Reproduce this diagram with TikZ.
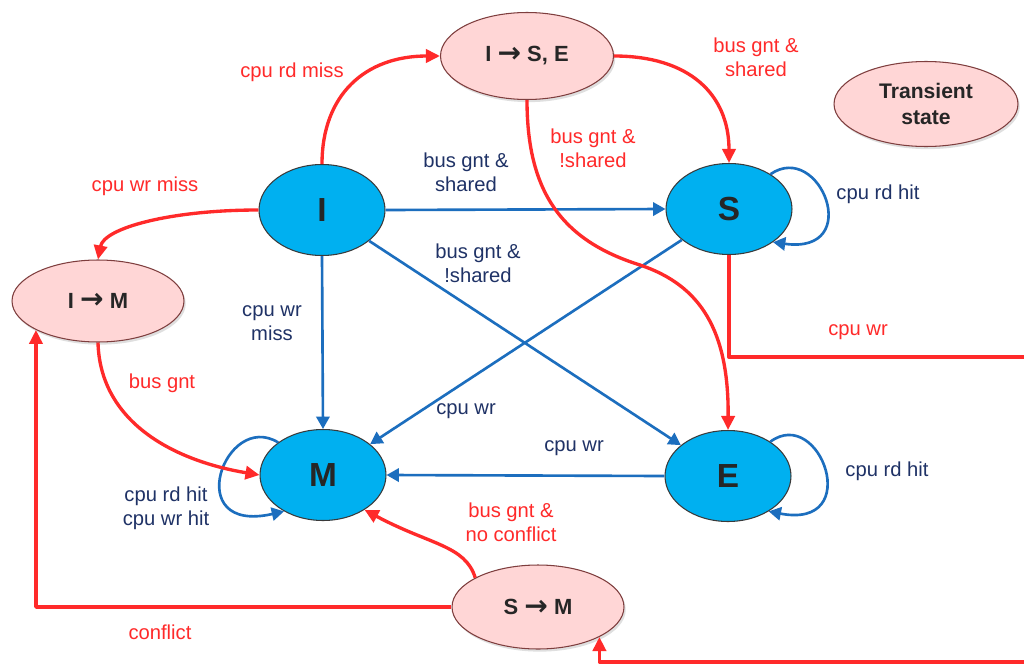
\documentclass[tikz,border=0pt]{standalone}
\usepackage{fontspec}
\setmainfont{Liberation Sans}
\newfontfamily\symfont{DejaVu Sans}
\newcommand{\trto}{\raisebox{-0.5pt}{\symfont\bfseries\fontsize{16}{16}\selectfont →}}
\usetikzlibrary{shapes.geometric,arrows.meta,shadows}
\definecolor{stfill}{HTML}{00B0F0}
\definecolor{stline}{HTML}{3A3A3A}
\definecolor{trfill}{HTML}{FFD6D6}
\definecolor{trline}{HTML}{7E3E3E}
\definecolor{redline}{HTML}{FF2A2A}
\definecolor{blueline}{HTML}{1C6EBE}
\definecolor{navy}{HTML}{1F3266}
\definecolor{dark}{HTML}{262626}
\begin{document}
\begin{tikzpicture}[x=0.02cm,y=-0.02cm,
  stable/.style={ellipse, draw=stline, fill=stfill, line width=0.6pt,
    minimum width=2.52cm, minimum height=1.82cm, inner sep=0pt,
    font=\fontsize{19}{19}\selectfont\bfseries, text=dark},
  transient/.style={ellipse, draw=trline, fill=trfill, line width=0.6pt,
    minimum width=3.46cm, minimum height=1.74cm, inner sep=0pt,
    font=\fontsize{12.5}{15}\selectfont\bfseries, text=dark,
    drop shadow={shadow xshift=1pt, shadow yshift=-1.5pt, opacity=0.25}},
  rarrow/.style={draw=redline, line width=1.9pt, line join=round,
    -{Triangle[length=8pt,width=7.5pt]}},
  barrow/.style={draw=blueline, line width=1.5pt,
    -{Triangle[length=7pt,width=7.5pt]}},
  rlabel/.style={text=redline, font=\fontsize{11.5}{13.5}\selectfont, align=center, inner sep=0pt},
  blabel/.style={text=navy, font=\fontsize{11.5}{13.5}\selectfont, align=center, inner sep=0pt},
]
\useasboundingbox (0,0) rectangle (1024,666);
\clip (0,0) rectangle (1024,666);
\fill[white] (0,0) rectangle (1024,666);

% stable states
\node[stable] (I) at (322,210) {I};
\node[stable] (S) at (729,209) {S};
\node[stable] (M) at (323,475) {M};
\node[stable] (E) at (728,476) {E};

% transient states
\node[transient] (ISE) at (527,56) {I \trto\ S, E};
\node[transient, minimum width=3.44cm, minimum height=1.64cm] (IM) at (98,301) {I \trto\ M};
\node[transient, minimum width=3.44cm, minimum height=1.68cm] (SM) at (538,607) {S \trto\ M};
\node[transient, minimum width=3.68cm, minimum height=1.7cm, align=center,
  font=\fontsize{12}{15}\selectfont\bfseries] (TS) at (926,104) {Transient\\state};

% bend points of the long wrap-around path
\coordinate (sDown)  at (729,357);
\coordinate (sRight) at (1040,357);
\coordinate (sLow)   at (1040,662);

% blue transitions between stable states
\draw[barrow] (I.east) -- (S.west);
\draw[barrow] (I) -- (E);
\draw[barrow] (I.south) -- (M.north);
\draw[barrow] (S) -- (M);
\draw[barrow] (E.west) -- (M.east);

% self loops
\draw[barrow] (S.40) .. controls (820,140) and (865,255) .. (S.-37);
\draw[barrow] (E.39) .. controls (820,405) and (865,530) .. (E.-41);
\draw[barrow] (M.144) .. controls (225,410) and (180,535) .. (M.-137);

% red transitions through transient states
\draw[rarrow] (I.north) .. controls (322,95) and (365,56) .. (ISE.west);
\draw[rarrow] (ISE.east) .. controls (690,56) and (729,95) .. (S.north);
\draw[rarrow] (ISE.south) .. controls (527,190) and (560,240) .. (640,265)
  .. controls (700,285) and (729,330) .. (E.north);
\draw[rarrow] (I.west) .. controls (170,210) and (104,228) .. (IM.north);
\draw[rarrow] (IM.south) .. controls (100,420) and (170,460) .. (M.west);
\draw[rarrow] (SM.155) .. controls (465,545) and (430,545) .. (M.-40);
\draw[rarrow] (SM.west) -| (IM.-155);
\draw[rarrow] (S.south) -- (sDown) -- (sRight) -- (sLow) -| (SM.-26);

% red labels
\node[rlabel] (lRdMiss)   at (292,72)  {cpu rd miss};
\node[rlabel] (lGntSh)    at (756,57)  {bus gnt \&\\shared};
\node[rlabel] (lGntNSh)   at (593,148) {bus gnt \&\\!shared};
\node[rlabel] (lWrMiss)   at (145,186) {cpu wr miss};
\node[rlabel] (lGnt)      at (162,383) {bus gnt};
\node[rlabel] (lNoConf)   at (511,522) {bus gnt \&\\no conflict};
\node[rlabel] (lConflict) at (160,632) {conflict};
\node[rlabel] (lSWr)      at (858,332) {cpu wr};

% blue labels
\node[blabel] (bGntSh)  at (466,172) {bus gnt \&\\shared};
\node[blabel] (bGntNSh) at (478,263) {bus gnt \&\\!shared};
\node[blabel] (bWrMiss) at (272,323) {cpu wr\\miss};
\node[blabel] (bSM)     at (466,411) {cpu wr};
\node[blabel] (bEM)     at (574,448) {cpu wr};
\node[blabel] (bSHit)   at (878,194) {cpu rd hit};
\node[blabel] (bEHit)   at (887,471) {cpu rd hit};
\node[blabel] (bMHit)   at (166,508) {cpu rd hit\\cpu wr hit};
\end{tikzpicture}
\end{document}
